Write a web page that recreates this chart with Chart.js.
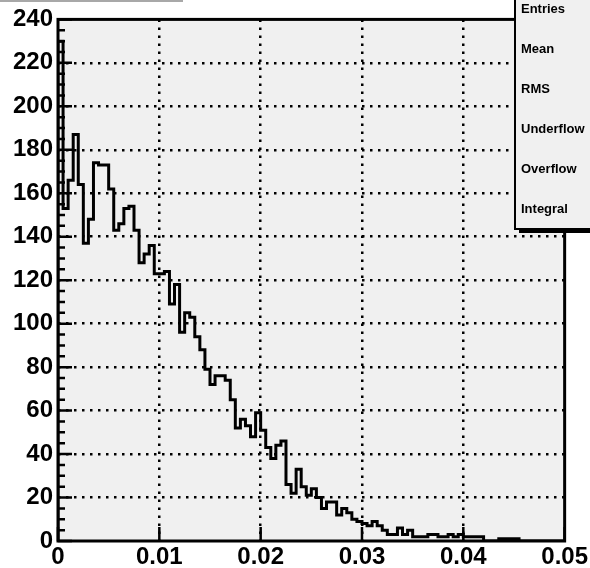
<!DOCTYPE html>
<html>
<head>
<meta charset="utf-8">
<script src="https://cdn.jsdelivr.net/npm/chart.js@4.4.1/dist/chart.umd.min.js"></script>
<style>
  html, body { margin: 0; padding: 0; background: #ffffff; }
  #wrap { width: 590px; height: 568px; }
  canvas { display: block; }
</style>
</head>
<body>
<div id="wrap"><canvas id="c" width="590" height="568"></canvas></div>
<script>
// Histogram range and per-bin contents (100 bins)
const binLow = 0;
const binHigh = 0.05;
const binCounts = [
  230, 153, 166, 187, 164, 137, 148, 174, 173, 173,
  162, 143, 146, 153, 154, 143, 128, 132, 136, 123,
  123, 124, 109, 118,  96, 105, 103,  94,  88,  79,
   72,  76,  76,  74,  65,  52,  56,  53,  48,  59,
   51,  43,  38,  44,  46,  26,  22,  33,  25,  21,
   24,  20,  15,  18,  18,  12,  15,  13,  10,   9,
    8,   7,   9,   7,   5,   3,   3,   6,   3,   5,
    2,   2,   2,   3,   3,   2,   2,   3,   2,   3,
    2,   2,   2,   2,   0,   0,   0,   1,   1,   1,
    1,   0,   0,   0,   0,   0,   0,   0,   0,   0
];

// Axis ticks
const xTickValues = [0, 0.01, 0.02, 0.03, 0.04, 0.05];
const xTickLabels = ['0', '0.01', '0.02', '0.03', '0.04', '0.05'];
const yTickValues = [0, 20, 40, 60, 80, 100, 120, 140, 160, 180, 200, 220, 240];
const yTickLabels = ['0', '20', '40', '60', '80', '100', '120', '140', '160', '180', '200', '220', '240'];
const yMinorPerMajor = 4;

// Statistics box rows
const statLabels = ['Entries', 'Mean', 'RMS', 'Underflow', 'Overflow', 'Integral'];

// Build step outline points: one point per bin low edge, closed to zero at both ends
const binWidth = (binHigh - binLow) / binCounts.length;
const stepPoints = [{ x: binLow, y: 0 }];
binCounts.forEach((c, i) => stepPoints.push({ x: binLow + i * binWidth, y: c }));
stepPoints.push({ x: binHigh, y: 0 });

const FONT = '"Liberation Sans", Arial, Helvetica, sans-serif';

const frameDeco = {
  id: 'frameDeco',
  beforeDraw(chart) {
    const { ctx, chartArea: a } = chart;
    ctx.save();
    ctx.fillStyle = '#ffffff';
    ctx.fillRect(0, 0, chart.width, chart.height);
    ctx.fillStyle = '#f0f0f0';
    ctx.fillRect(a.left, a.top, a.right - a.left, a.bottom - a.top);
    // lower edge of the title pave
    ctx.strokeStyle = '#a8a8a8';
    ctx.lineWidth = 2;
    ctx.beginPath();
    ctx.moveTo(0, 1);
    ctx.lineTo(183, 1);
    ctx.stroke();
    ctx.restore();
  },
  afterDraw(chart) {
    const { ctx, chartArea: a, scales } = chart;
    const xs = scales.x, ys = scales.y;
    ctx.save();
    ctx.strokeStyle = '#000';
    ctx.lineCap = 'butt';

    // y ticks (inside the frame), major and minor
    ctx.lineWidth = 2.5;
    ctx.beginPath();
    for (let i = 0; i < yTickValues.length; i++) {
      const v = yTickValues[i];
      const py = ys.getPixelForValue(v);
      ctx.moveTo(a.left, py);
      ctx.lineTo(a.left + 14, py);
      if (i < yTickValues.length - 1) {
        const step = (yTickValues[i + 1] - v) / yMinorPerMajor;
        for (let k = 1; k < yMinorPerMajor; k++) {
          const pm = ys.getPixelForValue(v + k * step);
          ctx.moveTo(a.left, pm);
          ctx.lineTo(a.left + 7, pm);
        }
      }
    }
    // x ticks
    for (const v of xTickValues) {
      const px = xs.getPixelForValue(v);
      ctx.moveTo(px, a.bottom);
      ctx.lineTo(px, a.bottom - 14);
    }
    ctx.stroke();

    // frame
    ctx.lineWidth = 3;
    ctx.strokeRect(a.left, a.top, a.right - a.left, a.bottom - a.top);

    // statistics box with shadow
    const bx = 515, by = -10, bw = 90, bh = 239;
    ctx.fillStyle = '#000';
    ctx.fillRect(bx + 4, by + 4, bw, bh);
    ctx.fillStyle = '#f0f0f0';
    ctx.fillRect(bx, by, bw, bh);
    ctx.lineWidth = 2;
    ctx.strokeRect(bx, by, bw, bh);
    ctx.fillStyle = '#000';
    ctx.font = 'bold 13px ' + FONT;
    ctx.textAlign = 'left';
    ctx.textBaseline = 'middle';
    const rowH = bh / statLabels.length;
    statLabels.forEach((s, i) => {
      ctx.fillText(s, bx + 6, by + rowH * (i + 0.5));
    });
    ctx.restore();
  }
};

const gridColor = (ctx, edges) => {
  const v = ctx.tick ? ctx.tick.value : null;
  return (v === edges[0] || v === edges[1]) ? 'rgba(0,0,0,0)' : '#000';
};

new Chart(document.getElementById('c'), {
  type: 'line',
  data: {
    datasets: [{
      data: stepPoints,
      stepped: true,
      borderColor: '#000',
      borderWidth: 3,
      pointRadius: 0,
      fill: false,
      tension: 0
    }]
  },
  options: {
    responsive: false,
    animation: false,
    devicePixelRatio: 1,
    layout: { padding: { top: 15, right: 24, left: 0, bottom: 0 } },
    plugins: { legend: { display: false }, tooltip: { enabled: false } },
    scales: {
      x: {
        type: 'linear',
        min: binLow,
        max: binHigh,
        afterBuildTicks: s => { s.ticks = xTickValues.map(v => ({ value: v })); },
        afterFit: s => { s.height = 27; },
        ticks: {
          autoSkip: false,
          maxRotation: 0,
          padding: 2,
          color: '#000',
          font: { family: FONT, size: 24, weight: 'bold' },
          callback: (v, i) => xTickLabels[i]
        },
        grid: {
          drawTicks: false,
          lineWidth: 2.5,
          color: c => gridColor(c, [binLow, binHigh])
        },
        border: { display: false, dash: [2.5, 5.5] }
      },
      y: {
        type: 'linear',
        min: yTickValues[0],
        max: yTickValues[yTickValues.length - 1],
        afterBuildTicks: s => { s.ticks = yTickValues.map(v => ({ value: v })); },
        afterFit: s => { s.width = 58; },
        ticks: {
          autoSkip: false,
          padding: 5,
          color: '#000',
          font: { family: FONT, size: 24, weight: 'bold' },
          callback: (v, i) => yTickLabels[i]
        },
        grid: {
          drawTicks: false,
          lineWidth: 2.5,
          color: c => gridColor(c, [yTickValues[0], yTickValues[yTickValues.length - 1]])
        },
        border: { display: false, dash: [2.5, 5.5] }
      }
    }
  },
  plugins: [frameDeco]
});
</script>
</body>
</html>
